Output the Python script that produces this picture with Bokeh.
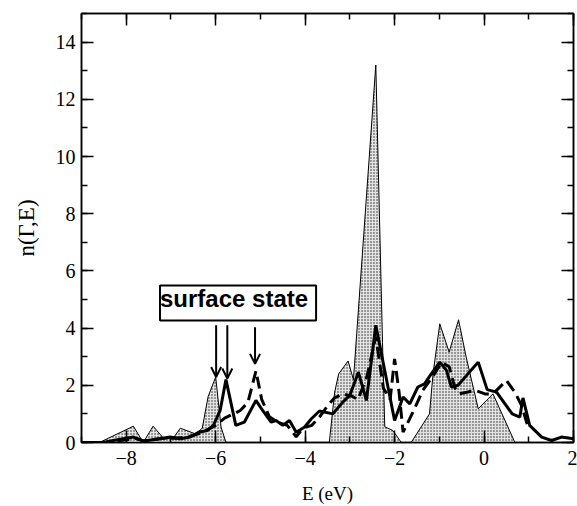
from bokeh.plotting import figure
from bokeh.models import (Range1d, LinearAxis, SingleIntervalTicker, Label, Arrow,
                          OpenHead, ColumnDataSource, CustomJSTickFormatter)
from bokeh.embed import file_html
from bokeh.resources import INLINE

# ---- data ----
E_bulk = [-9.0, -8.6, -7.84, -7.62, -7.40, -7.15, -6.95, -6.79, -6.45, -6.3, -6.17, -6.0,
          -5.88, -5.77, -3.46, -3.34, -3.25, -3.04, -2.92, -2.42, -2.27, -2.22, -2.04,
          -1.85, -1.63, -1.22, -1.14, -0.99, -0.78, -0.57, -0.40, -0.13, 0.20, 0.69, 2.0]
n_bulk = [0.0, 0.0, 0.57, 0.0, 0.57, 0.12, 0.15, 0.5, 0.3, 0.5, 1.6, 2.29,
          0.54, 0.0, 0.0, 1.76, 2.4, 2.85, 2.2, 13.2, 3.5, 0.55, 0.42,
          0.0, 0.0, 1.0, 2.4, 4.15, 3.16, 4.29, 2.99, 1.18, 1.7, 0.0, 0.0]

E_solid = [-9.0, -8.5, -8.29, -7.84, -7.61, -7.24, -7.02, -6.79, -6.57, -6.38, -6.19, -6.05,
           -5.9, -5.77, -5.55, -5.36, -5.1, -4.95, -4.76, -4.65, -4.5, -4.35, -4.2, -4.01,
           -3.86, -3.68, -3.38, -3.16, -3.0, -2.81, -2.63, -2.42, -2.0, -1.81, -1.66, -1.48,
           -1.33, -1.18, -0.99, -0.84, -0.73, -0.58, -0.36, -0.13, 0.07, 0.28, 0.63, 0.80,
           0.87, 1.02, 1.29, 1.51, 1.73, 2.0]
n_solid = [0.0, 0.0, 0.07, 0.19, 0.05, 0.13, 0.19, 0.13, 0.19, 0.36, 0.42, 0.6,
           1.12, 2.2, 0.6, 0.71, 1.47, 1.12, 0.71, 0.77, 0.6, 0.77, 0.36, 0.54,
           0.83, 1.1, 1.0, 1.41, 1.65, 2.46, 1.47, 4.1, 0.77, 1.59, 1.35, 1.94,
           2.05, 2.4, 2.81, 2.52, 1.94, 2.0, 2.4, 2.81, 1.85, 1.76, 1.0, 0.89,
           1.56, 0.6, 0.19, 0.07, 0.19, 0.13]

E_dash = [-9.0, -8.5, -8.2, -7.8, -7.6, -7.2, -6.9, -6.6, -6.3, -6.0, -5.8, -5.6, -5.45,
          -5.28, -5.1, -4.97, -4.8, -4.6, -4.4, -4.2, -4.05, -3.85, -3.68, -3.49, -3.35,
          -3.16, -2.95, -2.82, -2.62, -2.42, -2.25, -2.1, -2.0, -1.9, -1.81, -1.59, -1.37,
          -1.15, -0.95, -0.78, -0.65, -0.55, -0.2, 0.02, 0.2, 0.5, 0.69, 0.84, 1.0]
n_dash = [0.0, 0.0, 0.05, 0.15, 0.05, 0.15, 0.15, 0.2, 0.35, 0.6, 0.85, 1.0, 1.12,
          1.4, 2.5, 1.5, 0.9, 0.7, 0.6, 0.2, 0.5, 0.6, 0.89, 1.3, 1.55,
          1.7, 1.62, 1.5, 2.3, 3.7, 1.9, 1.5, 2.92, 1.76, 0.36, 1.06, 1.82,
          2.3, 2.8, 2.65, 1.9, 1.7, 1.82, 1.7, 1.7, 2.17, 1.76, 1.29, 0.45]

x_ticks = [-8, -6, -4, -2, 0, 2]
y_ticks = [0, 2, 4, 6, 8, 10, 12, 14]

# surface-state arrows: energy, start height, tip height
arrow_E = [-5.99, -5.74, -5.12]
arrow_top = [4.1, 4.1, 4.03]
arrow_tip = [2.29, 2.24, 2.75]
box_text = "surface state"

# ---- figure ----
p = figure(width=577, height=506, x_range=Range1d(-9, 2), y_range=Range1d(0, 15),
           output_backend="svg", toolbar_location=None,
           min_border_left=81, min_border_right=4, min_border_top=13, min_border_bottom=64)
p.xgrid.visible = False
p.ygrid.visible = False
p.outline_line_color = "black"
p.outline_line_width = 1.5
p.background_fill_color = "white"
p.border_fill_color = "white"

src_b = ColumnDataSource(dict(E=E_bulk, n=n_bulk, z=[0] * len(E_bulk)))
p.varea(x="E", y1="z", y2="n", source=src_b, fill_color="#e4e4e4",
        hatch_pattern="dot", hatch_color="#222222", hatch_scale=3, hatch_weight=1.2)
p.line(x="E", y="n", source=src_b, line_color="black", line_width=1)

p.line(E_dash, n_dash, line_color="black", line_width=3, line_dash="12 6")
p.line(E_solid, n_solid, line_color="black", line_width=3)

for e, t, b in zip(arrow_E, arrow_top, arrow_tip):
    p.add_layout(Arrow(x_start=e, y_start=t, x_end=e, y_end=b, line_width=2,
                       end=OpenHead(size=10, line_width=2)))

p.add_layout(Label(x=-5.5, y=4.88, text=box_text, text_align="center",
                   text_baseline="middle", text_font="Liberation Sans",
                   text_font_style="bold", text_font_size="24px", text_color="black",
                   border_line_color="black", border_line_width=2,
                   background_fill_color="white", padding=(0, 8, 0, 8)))

def style(ax, labels=True):
    ax.axis_line_width = 1.5
    ax.major_tick_in = 12
    ax.major_tick_out = 0
    ax.minor_tick_in = 6
    ax.minor_tick_out = 0
    ax.major_tick_line_width = 1.5
    ax.minor_tick_line_width = 1.5
    ax.major_label_text_font = "Liberation Serif"
    ax.major_label_text_font_size = "20px"
    ax.major_label_text_color = "black"
    ax.axis_label_text_color = "black"
    if not labels:
        ax.formatter = CustomJSTickFormatter(code="return ''")
        ax.major_label_standoff = 0

xa = p.xaxis[0]
xa.ticker = SingleIntervalTicker(interval=2, num_minor_ticks=2)
style(xa)
xa.major_label_standoff = 8
xa.axis_label = "E (eV)"
xa.axis_label_text_font = "Liberation Serif"
xa.axis_label_text_font_style = "normal"
xa.axis_label_text_font_size = "19px"
xa.axis_label_standoff = 15

ya = p.yaxis[0]
ya.ticker = SingleIntervalTicker(interval=2, num_minor_ticks=2)
style(ya)
ya.major_label_standoff = 6
ya.axis_label = "n(Γ,E)"
ya.axis_label_text_font = "Liberation Serif"
ya.axis_label_text_font_style = "normal"
ya.axis_label_text_font_size = "23px"
ya.axis_label_standoff = 14

top = LinearAxis(ticker=SingleIntervalTicker(interval=2, num_minor_ticks=2))
style(top, labels=False)
p.add_layout(top, "above")
right = LinearAxis(ticker=SingleIntervalTicker(interval=2, num_minor_ticks=2))
style(right, labels=False)
p.add_layout(right, "right")

open("out.html", "w").write(file_html(p, INLINE))
